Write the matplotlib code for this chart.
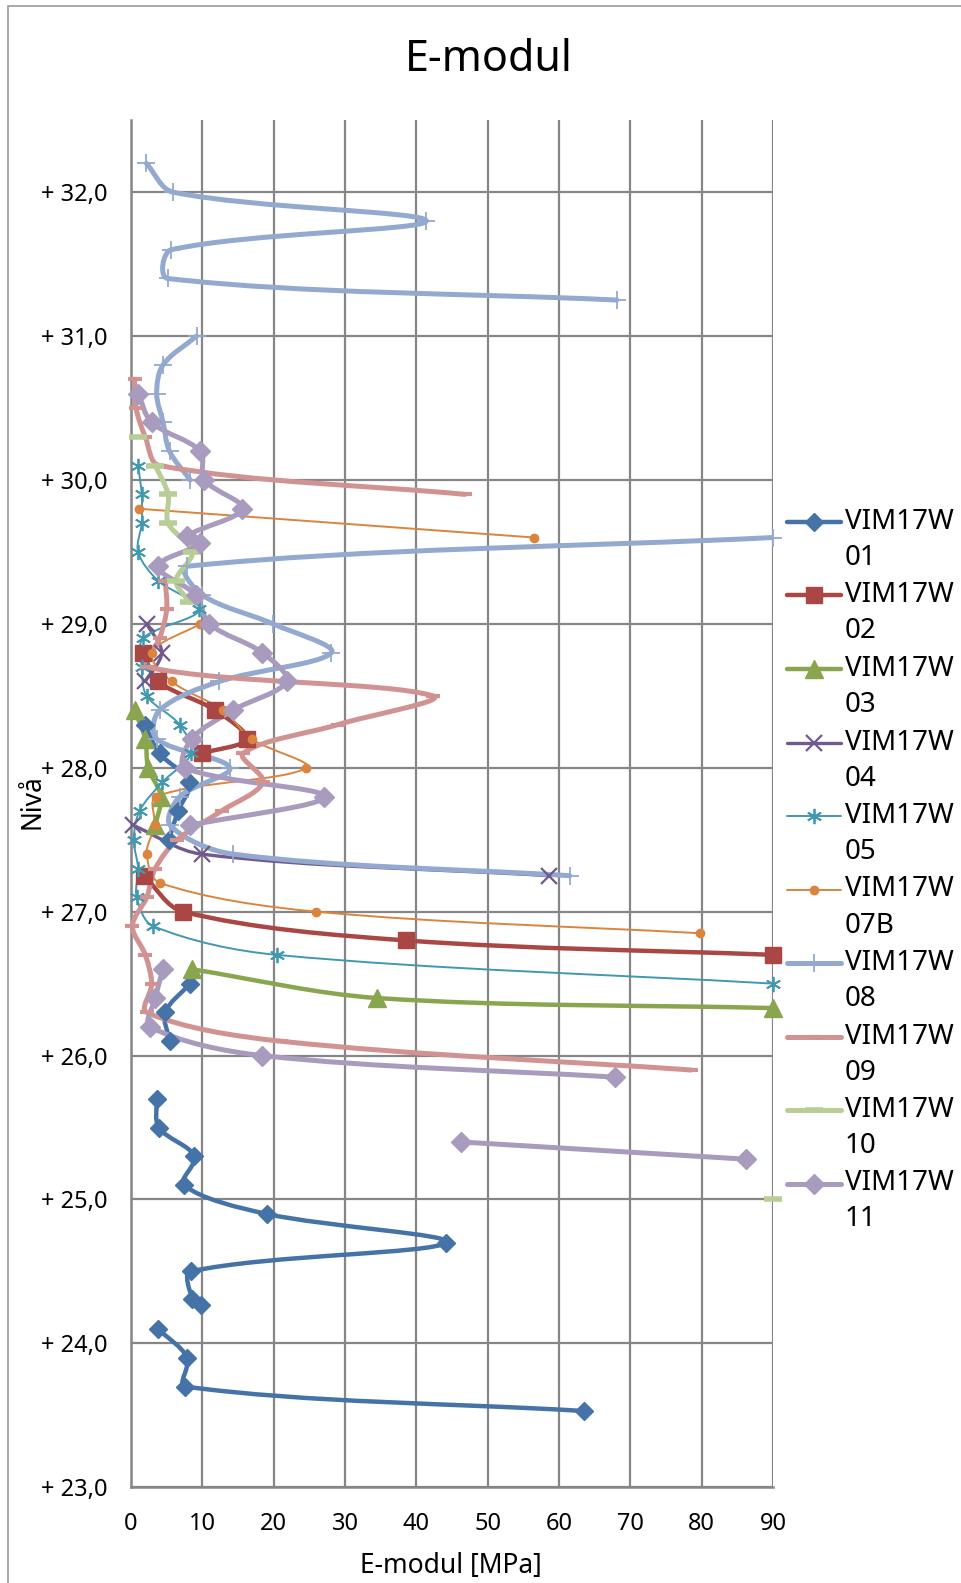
import numpy as np
import matplotlib
matplotlib.use("Agg")
import matplotlib.pyplot as plt
from matplotlib.path import Path
from matplotlib.patches import PathPatch, Rectangle
from matplotlib.lines import Line2D

plt.rcParams['font.family'] = ['Noto Sans', 'DejaVu Sans']

nan = np.nan

# niva (m) and E-modul (MPa) per borehole, nan = gap in the line
w01_niva = [28.3, 28.1, 27.9, 27.7, 27.5, 27.3, 26.5, 26.3, 26.1, 25.9, 25.7, 25.5, 25.3, 25.1,
            24.9, 24.7, 24.5, 24.31, 24.27, 24.2, 24.1, 23.9, 23.7, 23.53]
w01_e = [1.9, 4.0, 8.2, 6.6, 5.3, nan, 8.3, 4.8, 5.4, nan, 3.6, 3.9, 8.9, 7.4,
         19.0, 44.2, 8.4, 8.6, 9.8, nan, 3.8, 7.9, 7.6, 63.5]

w02_niva = [28.8, 28.6, 28.4, 28.2, 28.1, 27.7, 27.25, 27.0, 26.8, 26.7]
w02_e = [1.7, 3.8, 11.8, 16.2, 9.9, nan, 1.8, 7.3, 38.6, 90]

w03_niva = [28.4, 28.2, 28.0, 27.8, 27.6, 27.0, 26.6, 26.4, 26.33]
w03_e = [0.5, 2.0, 2.4, 4.2, 3.4, nan, 8.5, 34.5, 90]

w04_niva = [29.0, 28.8, 28.6, 28.0, 27.6, 27.4, 27.25]
w04_e = [2.2, 4.3, 2.0, nan, 0.3, 9.9, 58.6]

w05_niva = [30.1, 29.9, 29.7, 29.5, 29.3, 29.1, 28.9, 28.7, 28.5, 28.3, 28.1, 27.9, 27.7,
            27.5, 27.3, 27.1, 26.9, 26.7, 26.5]
w05_e = [1.0, 1.5, 1.5, 1.0, 3.8, 9.6, 1.7, 1.5, 2.2, 6.8, 8.4, 4.4, 1.2,
         0.4, 1.0, 0.8, 3.1, 20.4, 90]

w07b_niva = [29.8, 29.6, 29.2, 29.0, 28.8, 28.6, 28.4, 28.2, 28.0, 27.8, 27.6, 27.4, 27.2, 27.0, 26.85]
w07b_e = [1.1, 56.5, nan, 9.7, 2.9, 5.7, 12.9, 16.9, 24.6, 3.5, 3.3, 2.2, 4.05, 26.0, 79.8]

w08_niva = [32.2, 32.0, 31.8, 31.6, 31.4, 31.25, 31.1, 31.0, 30.8, 30.6, 30.4, 30.2, 30.0, 29.8,
            29.6, 29.4, 29.2, 29.0, 28.8, 28.6, 28.4, 28.2, 28.0, 27.8, 27.6, 27.4, 27.25]
w08_e = [2.15, 5.9, 41.4, 5.65, 5.15, 68.1, nan, 9.2, 4.5, 3.6, 4.5, 5.4, 8.3, nan,
         90, 7.8, 10.0, 19.9, 28.1, 12.4, 4.0, 3.6, 13.85, 6.85, 5.5, 14.3, 61.5]

w09_niva = [30.7, 30.5, 30.3, 30.1, 29.9, 29.6, 29.3, 29.1, 28.9, 28.7, 28.5, 28.3, 28.1, 27.9,
            27.7, 27.5, 27.3, 27.1, 26.9, 26.7, 26.5, 26.3, 26.1, 25.9]
w09_e = [0.5, 0.7, 2.0, 4.0, 46.8, nan, 4.8, 5.0, 4.0, 2.2, 42.3, 29.0, 15.7, 18.5,
         12.7, 6.5, 3.4, 2.2, 0.2, 2.0, 2.9, 2.2, 21.0, 78.5]

w10_niva = [30.3, 30.2, 30.1, 29.9, 29.7, 29.5, 29.3, 29.15, 25.1, 25.0]
w10_e = [1.0, nan, 3.4, 5.2, 5.2, 8.6, 6.3, 8.2, nan, 90]

w11_niva = [30.6, 30.4, 30.2, 30.0, 29.8, 29.61, 29.56, 29.4, 29.2, 29.0, 28.8, 28.6, 28.4, 28.2,
            28.0, 27.8, 27.6, 27.0, 26.6, 26.4, 26.2, 26.0, 25.85, 25.6, 25.4, 25.28]
w11_e = [1.0, 2.9, 9.7, 10.3, 15.6, 7.9, 9.65, 3.8, 9.1, 11.0, 18.4, 21.8, 14.3, 8.5,
         7.55, 27.1, 8.25, nan, 4.5, 3.4, 2.7, 18.4, 67.9, nan, 46.2, 86.2]

names = ["VIM17W01", "VIM17W02", "VIM17W03", "VIM17W04", "VIM17W05",
         "VIM17W07B", "VIM17W08", "VIM17W09", "VIM17W10", "VIM17W11"]
xticks = [0, 10, 20, 30, 40, 50, 60, 70, 80, 90]
yticks = [23, 24, 25, 26, 27, 28, 29, 30, 31, 32]

# (x, y, color, linewidth, marker, markersize, mew)
series = [
    (w01_e, w01_niva, '#4572A7', 3.2, 'D', 9, 1),
    (w02_e, w02_niva, '#AA4643', 3.2, 's', 12, 1),
    (w03_e, w03_niva, '#89A54E', 3.2, '^', 13, 1),
    (w04_e, w04_niva, '#71588F', 2.4, 'x', 11, 1.6),
    (w05_e, w05_niva, '#4198AF', 1.4, (6, 2, 0), 11, 1.3),
    (w07b_e, w07b_niva, '#DB843D', 1.4, 'o', 6, 1),
    (w08_e, w08_niva, '#93A9CF', 3.6, '+', 13, 1.3),
    (w09_e, w09_niva, '#D19392', 3.6, '_', 10, 3),
    (w10_e, w10_niva, '#B9CD96', 3.6, '_', 13, 4),
    (w11_e, w11_niva, '#A99BBD', 3.6, 'D', 10, 1),
]


def smooth_path(ax, xs, ys):
    # bezier through the points, tangents weighted by screen chord length
    xs = np.asarray(xs, float)
    ys = np.asarray(ys, float)
    tr = ax.transData
    verts, codes = [], []
    ok = np.isfinite(xs)
    i, n = 0, len(xs)
    while i < n:
        if not ok[i]:
            i += 1
            continue
        j = i
        while j < n and ok[j]:
            j += 1
        P = tr.transform(np.column_stack([xs[i:j], ys[i:j]]))
        m = len(P)
        if m > 1:
            L = np.hypot(*np.diff(P, axis=0).T)
            verts.append(P[0]); codes.append(Path.MOVETO)
            for k in range(m - 1):
                p1, p2 = P[k], P[k + 1]
                if k > 0:
                    c1 = p1 + (p2 - P[k - 1]) * L[k] / (3 * (L[k - 1] + L[k]))
                else:
                    c1 = p1 + (p2 - p1) / 3
                if k + 2 < m:
                    c2 = p2 - (P[k + 2] - p1) * L[k] / (3 * (L[k] + L[k + 1]))
                else:
                    c2 = p2 - (p2 - p1) / 3
                verts += [c1, c2, p2]
                codes += [Path.CURVE4] * 3
        i = j
    if not verts:
        return None
    return Path(tr.inverted().transform(np.array(verts)), codes)


fig = plt.figure(figsize=(9.62, 15.83), dpi=100)
ax = fig.add_axes([131 / 962, 1 - 1487.3 / 1583, 642 / 962, (1487.3 - 120.2) / 1583])
ax.set_xlim(0, 90)
ax.set_ylim(23, 32.5)

for xs, ys, col, lw, mk, ms, mew in series:
    p = smooth_path(ax, xs, ys)
    if p is not None:
        ax.add_patch(PathPatch(p, facecolor='none', edgecolor=col, lw=lw,
                               capstyle='round', joinstyle='round', zorder=3))
    ax.plot(xs, ys, linestyle='none', marker=mk, ms=ms, mew=mew, color=col,
            mfc=col, mec=col, clip_on=False, zorder=4)

ax.set_xlim(0, 90)
ax.set_ylim(23, 32.5)
ax.set_xticks(xticks)
ax.set_yticks(yticks)
ax.set_yticklabels(["+ %s" % ("%.1f" % v).replace('.', ',') for v in yticks])
ax.tick_params(length=0, labelsize=17, colors='black')
ax.tick_params(axis='y', pad=17)
ax.tick_params(axis='x', pad=18)
ax.grid(True, color='#868686', lw=1.6)
ax.set_axisbelow(True)
for s in ['top', 'right']:
    ax.spines[s].set_visible(False)
for s in ['left', 'bottom']:
    ax.spines[s].set_color('#868686')
    ax.spines[s].set_linewidth(1.8)

fig.text(489 / 962, 1 - 60 / 1583, "E-modul", ha='center', va='center', fontsize=31)
fig.text(451 / 962, 1 - 1566 / 1583, "E-modul [MPa]", ha='center', va='center', fontsize=19)
fig.text(33 / 962, 1 - 802 / 1583, "Nivå", ha='center', va='center', fontsize=19, rotation=90)

# legend drawn by hand so the marker sits on the first text line
for k, (xs, ys, col, lw, mk, ms, mew) in enumerate(series):
    yrow = 1 - (522 + 73.5 * k) / 1583
    fig.add_artist(Line2D([787 / 962, 841 / 962], [yrow, yrow], color=col, lw=lw,
                          solid_capstyle='round', transform=fig.transFigure))
    fig.add_artist(Line2D([814 / 962], [yrow], marker=mk, ms=ms, mew=mew, color=col,
                          mfc=col, mec=col, linestyle='none', transform=fig.transFigure))
    fig.text(845 / 962, yrow, names[k][:6], ha='left', va='center', fontsize=20)
    fig.text(845 / 962, yrow - 36 / 1583, names[k][6:], ha='left', va='center', fontsize=20)

fig.add_artist(Rectangle((8 / 962, -0.1), 1.2, 1.1 - 6 / 1583, fill=False,
                         edgecolor='#9a9a9a', lw=1.2, transform=fig.transFigure))

fig.savefig("out.png", dpi=100)
